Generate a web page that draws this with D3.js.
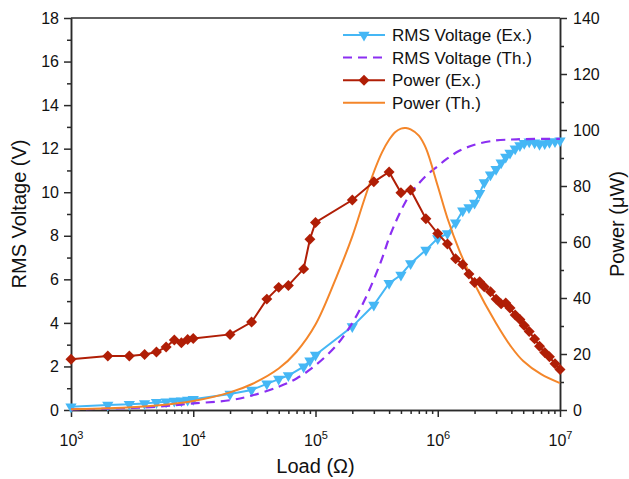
<!DOCTYPE html>
<html>
<head>
<meta charset="utf-8">
<script src="https://d3js.org/d3.v7.min.js"></script>
<style>
body { margin: 0; background: #fff; }
text { font-family: "Liberation Sans", Arial, sans-serif; fill: #111; }
</style>
</head>
<body>
<svg id="chart" width="629" height="479"></svg>
<script>
// measured loads (ohm)
const expLoad = [1e3, 2e3, 3e3, 4e3, 5e3, 6e3, 7e3, 8e3, 9e3, 1e4,
  2e4, 3e4, 4e4, 5e4, 6e4, 8e4, 9e4, 1e5, 2e5, 3e5, 4e5, 5e5, 6e5, 8e5, 1e6,
  1.2e6, 1.4e6, 1.6e6, 1.8e6, 2.0e6, 2.2e6, 2.4e6, 2.7e6, 3.0e6, 3.3e6, 3.6e6,
  3.9e6, 4.3e6, 4.7e6, 5.1e6, 5.6e6, 6.2e6, 6.8e6, 7.5e6, 8.2e6, 9.1e6, 1e7];
// RMS voltage (Ex.), V
const expVoltage = [0.15, 0.23, 0.26, 0.30, 0.35, 0.38, 0.41, 0.43, 0.46, 0.49,
  0.73, 0.92, 1.2, 1.42, 1.58, 1.99, 2.26, 2.53, 3.83, 4.82, 5.82, 6.2, 6.73, 7.35, 7.88,
  8.1, 8.6, 9.15, 9.3, 9.5, 9.95, 10.45, 10.8, 11.05, 11.35, 11.62,
  11.8, 12.0, 12.15, 12.25, 12.32, 12.27, 12.2, 12.24, 12.3, 12.33, 12.36];
// Power (Ex.), uW
const expPower = [18.1, 19.3, 19.3, 19.8, 20.7, 22.5, 25.0, 24.0, 25.2, 25.5,
  27.0, 31.4, 39.6, 43.8, 44.5, 50.4, 61.0, 67.0, 75.0, 81.5, 85.0, 77.6, 78.6, 68.3, 63.0,
  59.3, 54.0, 52.0, 48.6, 45.5, 45.8, 44.0, 42.2, 39.6, 37.9, 38.2,
  36.4, 33.9, 32.3, 30.2, 28.0, 25.4, 22.8, 20.5, 19.0, 16.5, 14.5];

// theoretical curves
const thLoad = [1e3, 2e3, 5e3, 1e4, 2e4, 3e4, 5e4, 7e4, 1e5, 1.5e5, 2e5, 2.5e5, 3e5,
  3.5e5, 4e5, 4.5e5, 5e5, 5.5e5, 6e5, 7e5, 8e5, 1e6, 1.2e6, 1.5e6, 2e6, 3e6, 4e6,
  5e6, 7e6, 1e7];
const thVoltage = [0.03, 0.06, 0.15, 0.3, 0.45, 0.66, 1.07, 1.45, 2.05, 3.0, 4.0, 5.0, 6.0,
  6.95, 7.9, 8.6, 9.15, 9.6, 9.95, 10.4, 10.75, 11.2, 11.55, 11.9, 12.18, 12.38, 12.42,
  12.44, 12.45, 12.45];
const thPower = [0.3, 0.6, 1.6, 3.2, 6.3, 9.2, 14.8, 20.8, 30.5, 48, 62, 75, 85,
  92, 96.5, 99.3, 100.5, 100.7, 100.2, 98, 93.5, 80, 68.5, 57, 45, 31, 22.5,
  17.5, 12.8, 9.6];

const xTicks = [1e3, 1e4, 1e5, 1e6, 1e7];
const xTickExp = ["3", "4", "5", "6", "7"];
const voltageTicks = [0, 2, 4, 6, 8, 10, 12, 14, 16, 18];
const powerTicks = [0, 20, 40, 60, 80, 100, 120, 140];

const seriesNames = ["RMS Voltage (Ex.)", "RMS Voltage (Th.)", "Power (Ex.)", "Power (Th.)"];
const colors = { vEx: "#45b7f5", vTh: "#8b2ff2", pEx: "#b01e06", pTh: "#f4862a" };

const margin = { top: 18, right: 69, bottom: 69, left: 71 };
const width = 629 - margin.left - margin.right;
const height = 479 - margin.top - margin.bottom;

const svg = d3.select("#chart");
const g = svg.append("g").attr("transform", `translate(${margin.left},${margin.top})`);

const x = d3.scaleLog().domain([1e3, 1e7]).range([0, width]);
const yV = d3.scaleLinear().domain([0, 18]).range([height, 0]);
const yP = d3.scaleLinear().domain([0, 140]).range([height, 0]);

const axisColor = "#2a2a2a";

// minor ticks
const minorX = [];
xTicks.slice(0, -1).forEach(d => { for (let k = 2; k <= 9; k++) minorX.push(d * k); });

function styleAxis(sel) {
  sel.selectAll("path, line").attr("stroke", axisColor).attr("stroke-width", 1.5);
  sel.selectAll("text").attr("font-size", 16).attr("fill", "#111");
}

g.append("g").attr("transform", `translate(0,${height})`)
  .call(d3.axisBottom(x).tickValues(minorX).tickSize(4).tickSizeOuter(0).tickFormat(""))
  .call(styleAxis);
const gx = g.append("g").attr("transform", `translate(0,${height})`)
  .call(d3.axisBottom(x).tickValues(xTicks).tickSize(7).tickSizeOuter(0).tickFormat(""))
  .call(styleAxis);
gx.selectAll(".tick text").remove();
gx.selectAll(".tick").append("text")
  .attr("y", 36).attr("text-anchor", "middle").attr("font-size", 16).attr("fill", "#111")
  .each(function (d, i) {
    const t = d3.select(this);
    t.append("tspan").text("10");
    t.append("tspan").attr("dy", -7).attr("font-size", 11).text(xTickExp[i]);
  });

// left axis
g.append("g")
  .call(d3.axisLeft(yV).tickValues(d3.range(1, 18, 2)).tickSize(4).tickSizeOuter(0).tickFormat(""))
  .call(styleAxis);
g.append("g")
  .call(d3.axisLeft(yV).tickValues(voltageTicks).tickSize(7).tickPadding(5).tickSizeOuter(0))
  .call(styleAxis);

// right axis
g.append("g").attr("transform", `translate(${width},0)`)
  .call(d3.axisRight(yP).tickValues(d3.range(10, 140, 20)).tickSize(4).tickSizeOuter(0).tickFormat(""))
  .call(styleAxis);
g.append("g").attr("transform", `translate(${width},0)`)
  .call(d3.axisRight(yP).tickValues(powerTicks).tickSize(7).tickPadding(6).tickSizeOuter(0))
  .call(styleAxis);

// top frame
g.append("line").attr("x1", 0).attr("x2", width).attr("y1", 0).attr("y2", 0)
  .attr("stroke", axisColor).attr("stroke-width", 1.5);

// axis titles
svg.append("text").attr("transform", `translate(26,${margin.top + height / 2}) rotate(-90)`)
  .attr("text-anchor", "middle").attr("font-size", 20).text("RMS Voltage (V)");
svg.append("text").attr("transform", `translate(624,${margin.top + height / 2 + 10}) rotate(-90)`)
  .attr("text-anchor", "middle").attr("font-size", 20).text("Power (\u03bcW)");
svg.append("text").attr("x", margin.left + width / 2).attr("y", 473)
  .attr("text-anchor", "middle").attr("font-size", 20).text("Load (\u03a9)");

const plot = g.append("g");

const thData = thLoad.map((r, i) => ({ r, v: thVoltage[i], p: thPower[i] }));
const expData = expLoad.map((r, i) => ({ r, v: expVoltage[i], p: expPower[i] }));

const triangle = d3.symbol(d3.symbolTriangle, 55);
const diamond = d3.symbol(d3.symbolSquare, 60);

// RMS voltage (Ex.)
plot.append("path").datum(expData)
  .attr("fill", "none").attr("stroke", colors.vEx).attr("stroke-width", 2)
  .attr("d", d3.line().x(d => x(d.r)).y(d => yV(d.v)));
plot.selectAll(".tri").data(expData).enter().append("path")
  .attr("class", "tri")
  .attr("transform", d => `translate(${x(d.r)},${yV(d.v)}) rotate(180)`)
  .attr("d", triangle).attr("fill", colors.vEx);

// RMS voltage (Th.)
plot.append("path").datum(thData)
  .attr("fill", "none").attr("stroke", colors.vTh).attr("stroke-width", 2.2)
  .attr("stroke-dasharray", "9,6")
  .attr("d", d3.line().curve(d3.curveCatmullRom).x(d => x(d.r)).y(d => yV(d.v)));

// Power (Th.)
plot.append("path").datum(thData)
  .attr("fill", "none").attr("stroke", colors.pTh).attr("stroke-width", 2)
  .attr("d", d3.line().curve(d3.curveCatmullRom).x(d => x(d.r)).y(d => yP(d.p)));

// Power (Ex.)
plot.append("path").datum(expData)
  .attr("fill", "none").attr("stroke", colors.pEx).attr("stroke-width", 2)
  .attr("d", d3.line().x(d => x(d.r)).y(d => yP(d.p)));
plot.selectAll(".dia").data(expData).enter().append("path")
  .attr("class", "dia")
  .attr("transform", d => `translate(${x(d.r)},${yP(d.p)}) rotate(45)`)
  .attr("d", diamond).attr("fill", colors.pEx);

// legend
const legend = svg.append("g").attr("transform", "translate(343,35)");
const legendRows = [
  { name: seriesNames[0], color: colors.vEx, dash: null, sym: "tri" },
  { name: seriesNames[1], color: colors.vTh, dash: "9,6", sym: null },
  { name: seriesNames[2], color: colors.pEx, dash: null, sym: "dia" },
  { name: seriesNames[3], color: colors.pTh, dash: null, sym: null }
];
legendRows.forEach((row, i) => {
  const r = legend.append("g").attr("transform", `translate(0,${i * 22.6})`);
  r.append("line").attr("x1", 0).attr("x2", 42).attr("y1", 0).attr("y2", 0)
    .attr("stroke", row.color).attr("stroke-width", 2)
    .attr("stroke-dasharray", row.dash);
  if (row.sym === "tri") {
    r.append("path").attr("transform", "translate(21,0) rotate(180)").attr("d", triangle).attr("fill", row.color);
  } else if (row.sym === "dia") {
    r.append("path").attr("transform", "translate(21,0) rotate(45)").attr("d", diamond).attr("fill", row.color);
  }
  r.append("text").attr("x", 49).attr("dy", "0.36em").attr("font-size", 17).text(row.name);
});
</script>
</body>
</html>
